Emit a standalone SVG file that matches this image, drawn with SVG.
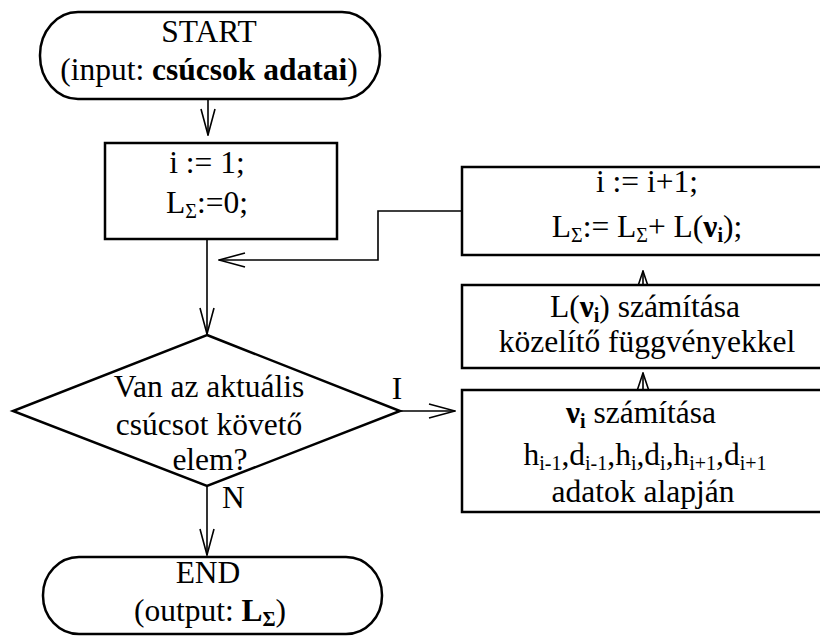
<svg xmlns="http://www.w3.org/2000/svg" width="820" height="636" viewBox="0 0 820 636">
  <style>
    .shape { fill: #fff; stroke: #000; stroke-width: 2.5; }
    .conn { fill: none; stroke: #000; stroke-width: 1.6; }
    text { font-family: "Liberation Serif", "Times New Roman", serif; font-size: 31.5px; fill: #000; }
    .c { text-anchor: middle; }
    .b { font-weight: bold; }
    .sub { font-size: 20px; }
  </style>
  <defs>
    <marker id="arrow" markerUnits="userSpaceOnUse" viewBox="0 0 28 16" refX="27" refY="8" markerWidth="28" markerHeight="16" orient="auto">
      <path d="M1,1 L27,8 L1,15" fill="none" stroke="#000" stroke-width="1.6"/>
    </marker>
    <marker id="arrowS" markerUnits="userSpaceOnUse" viewBox="0 0 20 14" refX="19" refY="7" markerWidth="20" markerHeight="14" orient="auto">
      <path d="M1,1 L19,7 L1,13" fill="none" stroke="#000" stroke-width="1.6"/>
    </marker>
  </defs>
  <rect width="820" height="636" fill="#fff"/>

  <!-- connectors -->
  <g id="connectors">
    <path class="conn" d="M208,100 L208,135" marker-end="url(#arrow)"/>
    <path class="conn" d="M207,239 L207,334" marker-end="url(#arrow)"/>
    <path class="conn" d="M462,211 L378,211 L378,260 L219,260" marker-end="url(#arrow)"/>
    <path class="conn" d="M400,411 L455,411" marker-end="url(#arrow)"/>
    <path class="conn" d="M207,486 L207,555" marker-end="url(#arrow)"/>
    <path class="conn" d="M643,391 L643,373" marker-end="url(#arrowS)"/>
    <path class="conn" d="M643,289 L643,271" marker-end="url(#arrowS)"/>
  </g>

  <!-- start terminal -->
  <g id="start">
    <rect class="shape" x="40" y="12" width="340" height="87" rx="38" ry="43"/>
    <text class="c" x="209" y="42">START</text>
    <text class="c" x="209" y="80">(input: <tspan class="b">csúcsok adatai</tspan>)</text>
  </g>

  <!-- initialisation -->
  <g id="init">
    <rect class="shape" x="105" y="143" width="232" height="96"/>
    <text class="c" x="207" y="173">i := 1;</text>
    <text class="c" x="207" y="213">L<tspan class="sub" dy="5">Σ</tspan><tspan dy="-5">:=0;</tspan></text>
  </g>

  <!-- decision -->
  <g id="decision">
    <polygon class="shape" points="207,335 400,411 207,486 13,411"/>
    <text class="c" x="209" y="397">Van az aktuális</text>
    <text class="c" x="209" y="435">csúcsot követő</text>
    <text class="c" x="210" y="470">elem?</text>
    <text class="c" x="397" y="399">I</text>
    <text x="222" y="508">N</text>
  </g>

  <!-- increment step -->
  <g id="increment">
    <rect class="shape" x="462" y="167" width="370" height="88"/>
    <text class="c" x="647" y="192">i := i+1;</text>
    <text class="c" x="647" y="237">L<tspan class="sub" dy="5">Σ</tspan><tspan dy="-5">:= L</tspan><tspan class="sub" dy="5">Σ</tspan><tspan dy="-5">+ L(</tspan><tspan class="b">ν</tspan><tspan class="b sub" dy="5">i</tspan><tspan dy="-5">);</tspan></text>
  </g>

  <!-- length computation -->
  <g id="length">
    <rect class="shape" x="462" y="285" width="370" height="83"/>
    <text class="c" x="645" y="317">L(<tspan class="b">ν</tspan><tspan class="b sub" dy="5">i</tspan><tspan dy="-5">) számítása</tspan></text>
    <text class="c" x="647" y="352">közelítő függvényekkel</text>
  </g>

  <!-- nu computation -->
  <g id="nu">
    <rect class="shape" x="462" y="390" width="370" height="122"/>
    <text class="c" x="641" y="423"><tspan class="b">ν</tspan><tspan class="b sub" dy="5">i</tspan><tspan dy="-5"> számítása</tspan></text>
    <text class="c" x="645" y="465">h<tspan class="sub" dy="5">i-1</tspan><tspan dy="-5">,d</tspan><tspan class="sub" dy="5">i-1</tspan><tspan dy="-5">,h</tspan><tspan class="sub" dy="5">i</tspan><tspan dy="-5">,d</tspan><tspan class="sub" dy="5">i</tspan><tspan dy="-5">,h</tspan><tspan class="sub" dy="5">i+1</tspan><tspan dy="-5">,d</tspan><tspan class="sub" dy="5">i+1</tspan></text>
    <text class="c" x="643" y="502">adatok alapján</text>
  </g>

  <!-- end terminal -->
  <g id="end">
    <rect class="shape" x="43" y="557" width="339" height="77" rx="36" ry="38"/>
    <text class="c" x="208" y="583">END</text>
    <text class="c" x="210" y="621">(output: <tspan class="b">L</tspan><tspan class="b sub" dy="5">Σ</tspan><tspan dy="-5">)</tspan></text>
  </g>
</svg>
